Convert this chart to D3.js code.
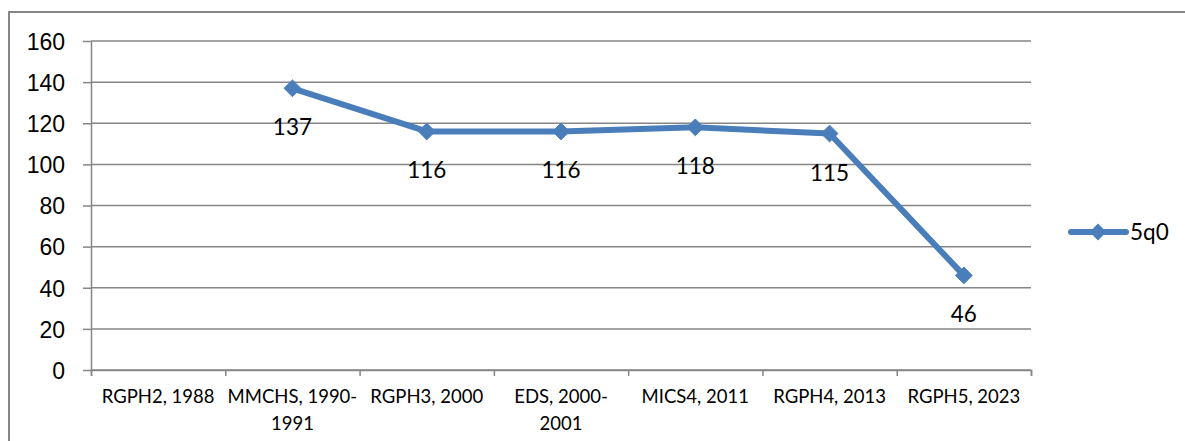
<!DOCTYPE html>
<html>
    <head>
        <meta charset="utf-8">
        <title>5q0</title>
        <style>
body {
    margin: 0;
    background-color: white;
}

svg {
    display: block;
    font-family: Lato, "Open Sans", sans-serif;
}

.grid line, .axis path, .axis line {
    stroke: #868686;
    stroke-width: 1.5;
}

</style>
        <script src="https://cdn.jsdelivr.net/npm/d3@7/dist/d3.min.js"></script>
    </head>
    <body>
        <script>
var categories = ["RGPH2, 1988", "MMCHS, 1990-1991", "RGPH3, 2000", "EDS, 2000-2001",
                  "MICS4, 2011", "RGPH4, 2013", "RGPH5, 2023"];
var values = [null, 137, 116, 116, 118, 115, 46];
var seriesName = "5q0";
var yTicks = [0, 20, 40, 60, 80, 100, 120, 140, 160];

var width = 1185,
    height = 441;

// plot area (note: "top" is reserved on window, so use other names)
var plotLeft = 91, plotRight = 1031, plotTop = 41, plotBottom = 370;
var blue = "#4a7ebb";

var svg = d3.select('body')
    .append('svg')
    .attr('width', width)
    .attr('height', height);

// chart frame
svg.append("rect")
    .attr("x", 9)
    .attr("y", 12)
    .attr("width", width + 20)
    .attr("height", height + 20)
    .attr("fill", "white")
    .attr("stroke", "#868686")
    .attr("stroke-width", 2);

var x = d3.scaleBand()
    .domain(categories)
    .range([plotLeft, plotRight])
    .padding(0);

var xEdges = d3.scaleLinear()
    .domain([0, categories.length])
    .range([plotLeft, plotRight]);

var y = d3.scaleLinear()
    .domain([0, 160])
    .range([plotBottom, plotTop]);

// gridlines
svg.append("g")
    .attr("class", "grid")
    .selectAll("line")
    .data(yTicks)
    .enter()
    .append("line")
    .attr("x1", plotLeft)
    .attr("x2", plotRight)
    .attr("y1", function (d) { return y(d); })
    .attr("y2", function (d) { return y(d); });

// y axis
var yAxis = svg.append("g")
    .attr("class", "axis")
    .attr("transform", "translate(" + plotLeft + ",0)")
    .call(d3.axisLeft(y).tickValues(yTicks).tickSizeInner(8).tickSizeOuter(0).tickPadding(18));

yAxis.selectAll("text")
    .attr("fill", "black")
    .attr("dy", "0.36em")
    .style("font-size", "23px");

// x axis: ticks between categories
svg.append("g")
    .attr("class", "axis")
    .attr("transform", "translate(0," + plotBottom + ")")
    .call(d3.axisBottom(xEdges).ticks(categories.length).tickFormat("").tickSizeInner(6).tickSizeOuter(6));

var xLabels = svg.append("g")
    .selectAll("text")
    .data(categories)
    .enter()
    .append("text")
    .attr("text-anchor", "middle")
    .attr("x", function (d) { return x(d) + x.bandwidth() / 2; })
    .attr("y", 403)
    .style("font-size", "18.5px")
    .attr("fill", "black");

xLabels.each(function (d) {
    var lines = d.replace(/-(\d)/, "-\n$1").split("\n");
    var t = d3.select(this);
    lines.forEach(function (line, i) {
        t.append("tspan")
            .attr("x", x(d) + x.bandwidth() / 2)
            .attr("dy", i === 0 ? 0 : 27)
            .text(line);
    });
});

// series
var points = categories.map(function (c, i) {
    return {cat: c, v: values[i]};
}).filter(function (d) { return d.v !== null; });

var line = d3.line()
    .x(function (d) { return x(d.cat) + x.bandwidth() / 2; })
    .y(function (d) { return y(d.v); });

svg.append("path")
    .datum(points)
    .attr("d", line)
    .attr("fill", "none")
    .attr("stroke", blue)
    .attr("stroke-width", 6)
    .attr("stroke-linejoin", "round");

var diamond = d3.symbol().type(d3.symbolDiamond2).size(180);

svg.append("g")
    .selectAll("path")
    .data(points)
    .enter()
    .append("path")
    .attr("d", diamond)
    .attr("transform", function (d) {
        return "translate(" + (x(d.cat) + x.bandwidth() / 2) + "," + y(d.v) + ")";
    })
    .attr("fill", blue)
    .attr("stroke", blue)
    .attr("stroke-width", 1);

svg.append("g")
    .selectAll("text")
    .data(points)
    .enter()
    .append("text")
    .attr("text-anchor", "middle")
    .attr("x", function (d) { return x(d.cat) + x.bandwidth() / 2; })
    .attr("y", function (d) { return y(d.v) + 47; })
    .style("font-size", "22.5px")
    .attr("fill", "black")
    .text(function (d) { return d.v; });

// legend
var legend = svg.append("g")
    .attr("transform", "translate(1071,232)");

legend.append("line")
    .attr("x1", 0)
    .attr("x2", 55)
    .attr("stroke", blue)
    .attr("stroke-width", 6)
    .attr("stroke-linecap", "round");

legend.append("path")
    .attr("d", diamond)
    .attr("transform", "translate(27,0)")
    .attr("fill", blue);

legend.append("text")
    .attr("x", 59)
    .attr("y", 8)
    .style("font-size", "22.5px")
    .attr("fill", "black")
    .text(seriesName);

        </script>
    </body>
</html>
